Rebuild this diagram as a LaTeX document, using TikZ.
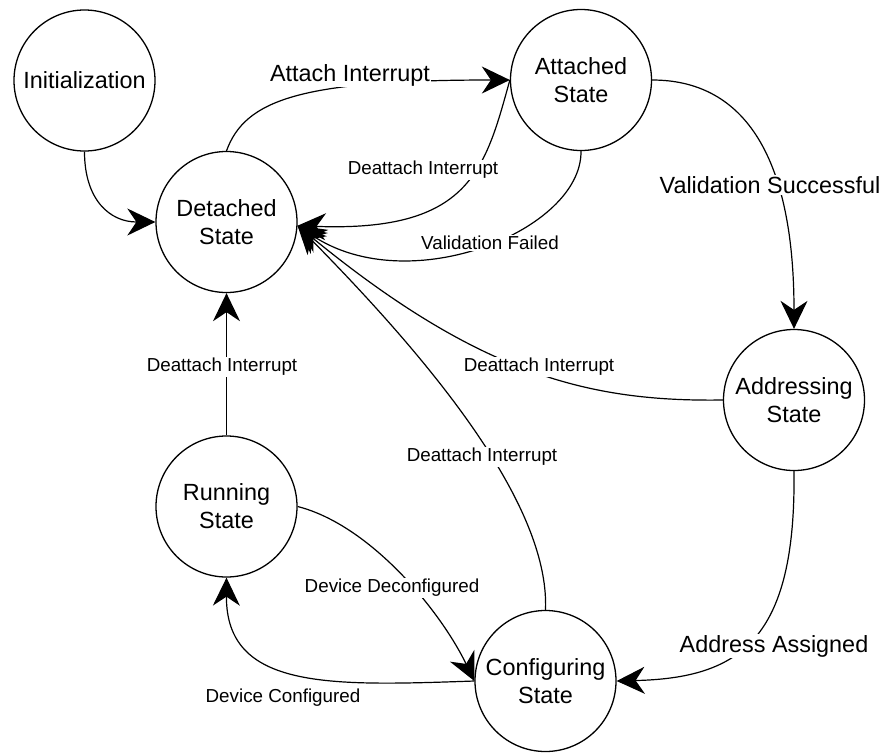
\documentclass[tikz,border=0pt]{standalone}
\usepackage{fontspec}
\setmainfont{Liberation Sans}
\usetikzlibrary{arrows.meta}
\begin{document}
\begin{tikzpicture}[x=1pt,y=-1pt,
  state/.style={circle, draw, line width=1.3pt, minimum size=141pt, inner sep=0pt,
    align=center, font=\fontsize{23.4}{28}\selectfont},
  edge/.style={line width=1.2pt, -{Stealth[length=28pt,width=27pt,inset=9pt]}},
  biglbl/.style={fill=white, inner sep=1pt, font=\fontsize{23.4}{28}\selectfont},
  smalllbl/.style={fill=white, inner sep=1pt, font=\fontsize{18.8}{22}\selectfont},
]
\useasboundingbox (0,0) rectangle (886,753);

% states
\node[state] (init) at (84.5,80.5)  {Initialization};
\node[state] (det)  at (226.5,222)  {Detached\\State};
\node[state] (att)  at (581,80)     {Attached\\State};
\node[state] (addr) at (794,400)    {Addressing\\State};
\node[state] (run)  at (226.5,506.5){Running\\State};
\node[state] (conf) at (545.5,681)  {Configuring\\State};

% transitions
\draw[edge] (init.south) .. controls (84.5,200) and (110,222) .. (det.west);
\draw[edge] (det.north) .. controls (245,100) and (300,80) .. (att.west);
\draw[edge] (att.west) .. controls (485,170) and (470,232) .. (det.-3);
\draw[edge] (att.south) .. controls (582,230) and (410,300) .. (det.-3);
\draw[edge] (att.east) .. controls (740,80) and (794,150) .. (addr.north);
\draw[edge] (addr.west) .. controls (590,402) and (480,375) .. (det.-3);
\draw[edge] (conf.north) .. controls (550,500) and (420,350) .. (det.-3);
\draw[edge] (run.north) -- (det.south);
\draw[edge] (run.east) .. controls (370,525) and (440,610) .. (conf.west);
\draw[edge] (conf.west) .. controls (330,686) and (226,690) .. (run.south);
\draw[edge] (addr.south) .. controls (796,640) and (740,678) .. (conf.east);

% transition labels
\node[biglbl]   (lAttach) at (350,75)  {Attach Interrupt};
\node[smalllbl] (lDet1)   at (423,170) {Deattach Interrupt};
\node[smalllbl] (lFail)   at (490,243) {Validation Failed};
\node[biglbl]   (lOK)     at (770,185) {Validation Successful};
\node[smalllbl] (lDet2)   at (539,367) {Deattach Interrupt};
\node[smalllbl] (lDet3)   at (482,457) {Deattach Interrupt};
\node[smalllbl] (lDet4)   at (222,367) {Deattach Interrupt};
\node[smalllbl] (lDecon)  at (392,588) {Device Deconfigured};
\node[smalllbl] (lCon)    at (283,698) {Device Configured};
\node[biglbl]   (lAddr)   at (774,646) {Address Assigned};
\end{tikzpicture}
\end{document}
